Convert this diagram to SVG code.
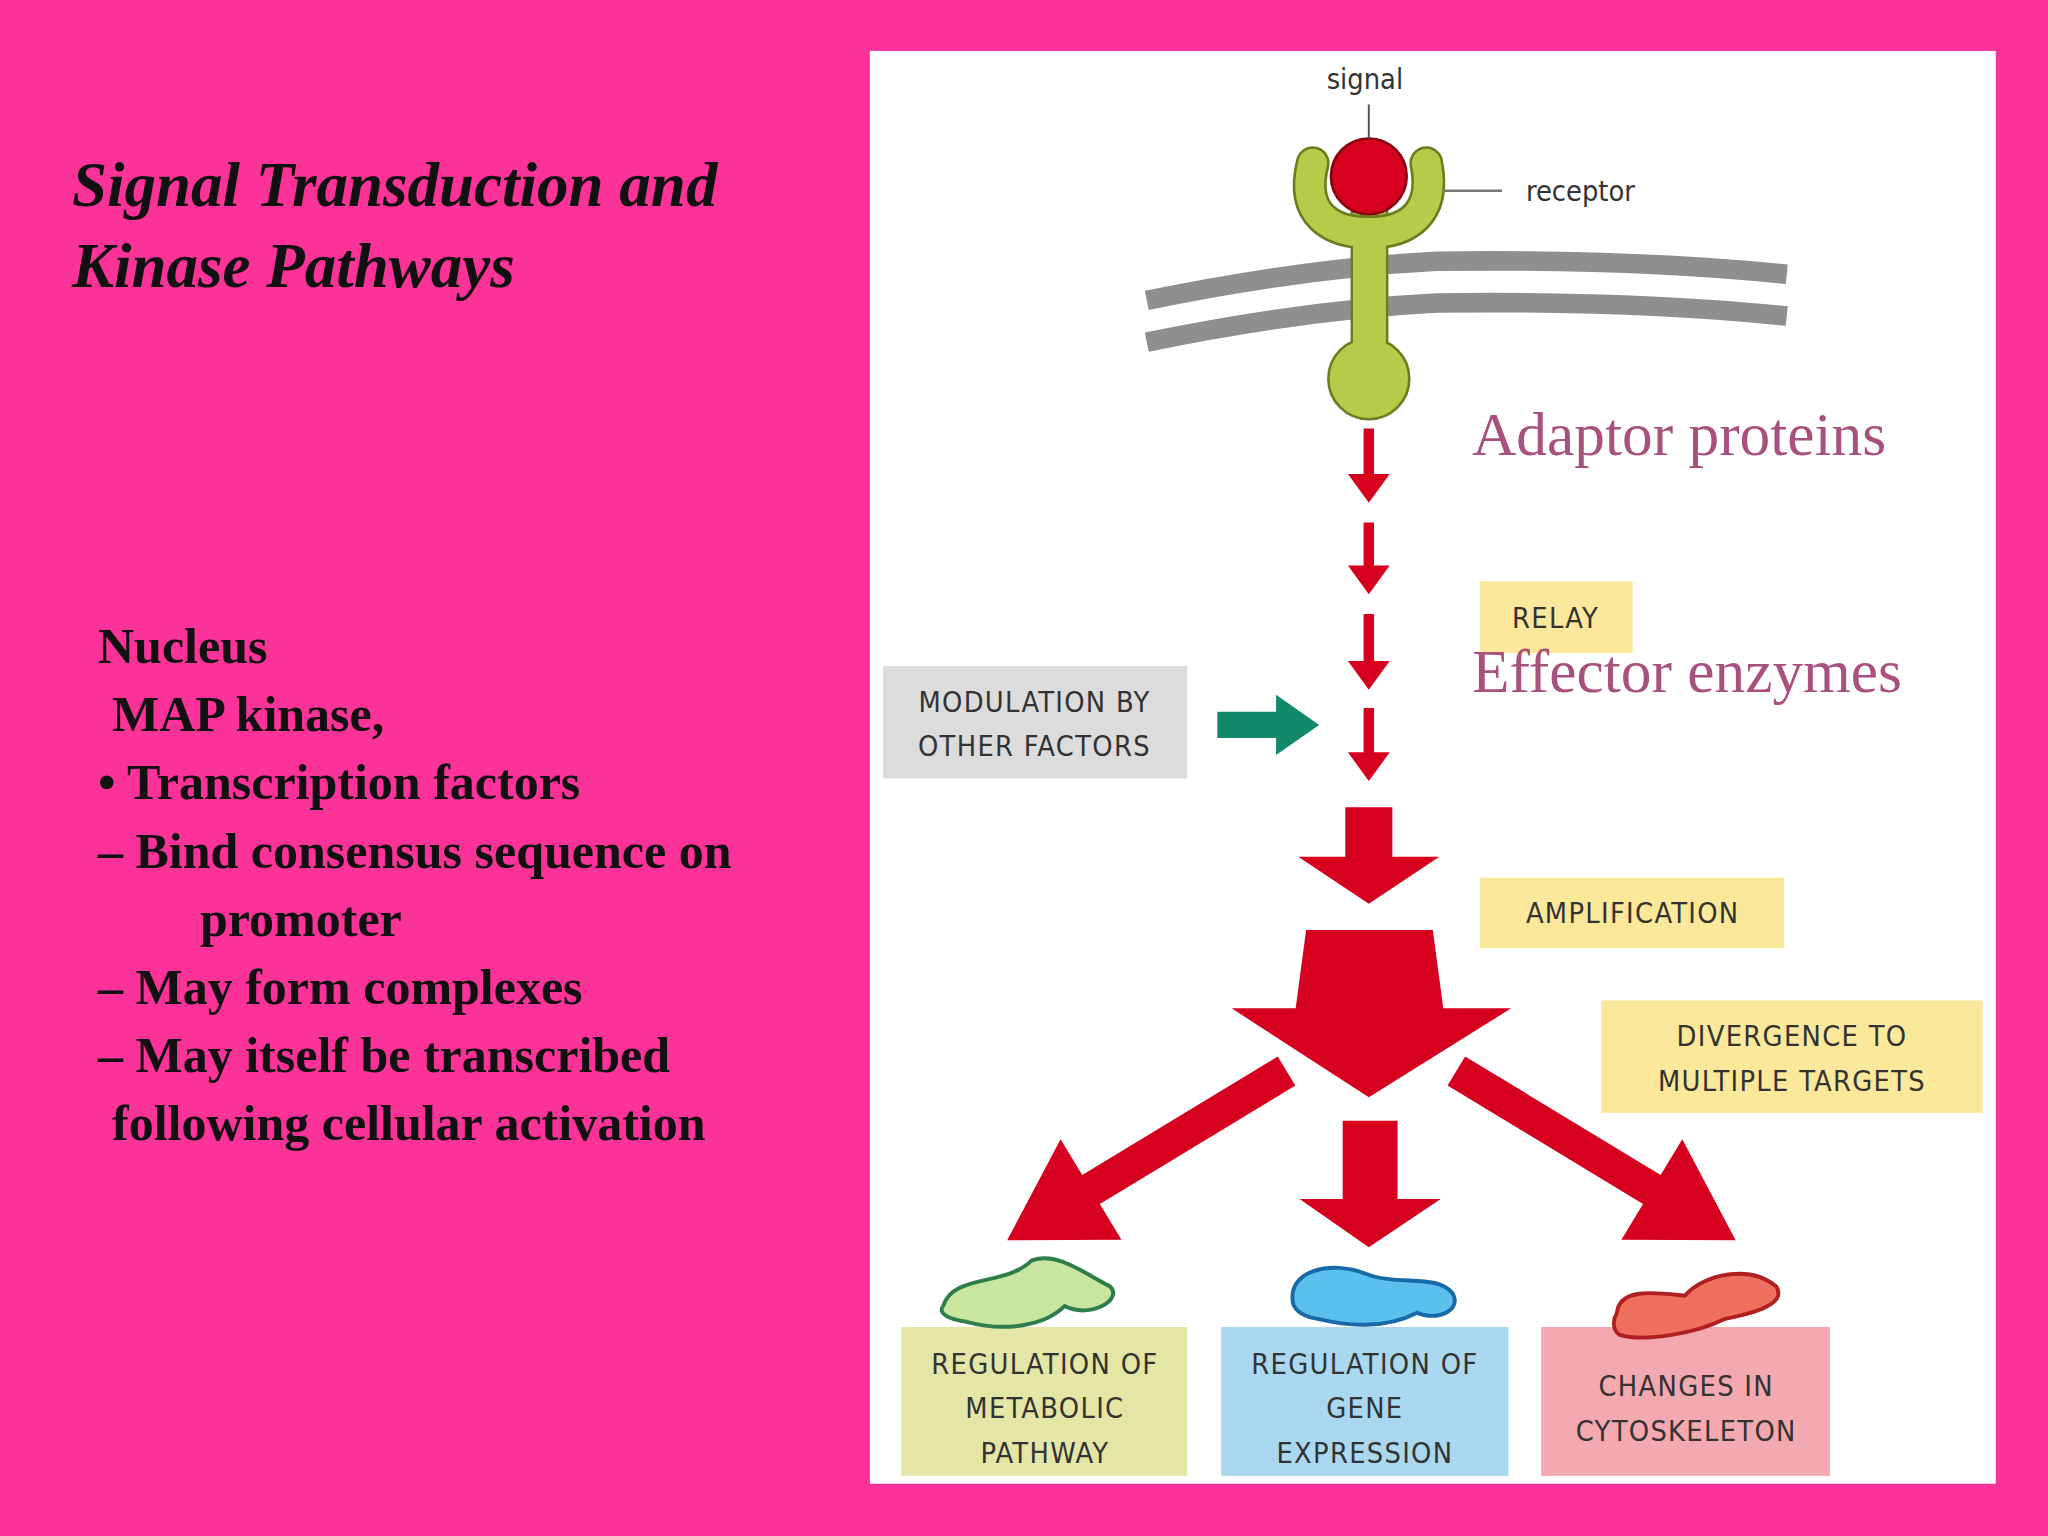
<svg xmlns="http://www.w3.org/2000/svg" width="2048" height="1536" viewBox="0 0 2048 1536">
<style>
.t{font-family:"Liberation Serif",serif;font-weight:bold;fill:#111}
.l{font-family:"DejaVu Sans Condensed","DejaVu Sans",sans-serif;font-size:22px;fill:#333;text-anchor:middle;letter-spacing:1px}
.o{font-family:"Liberation Serif",serif;font-size:47px;fill:#A8507E}
.r{fill:#D6001F}
</style>
<rect width="2048" height="1536" fill="#FB3399"/>
<g id="title">
<text class="t" x="72" y="206" font-size="63" font-style="italic">Signal Transduction and</text>
<text class="t" x="72" y="287" font-size="63" font-style="italic">Kinase Pathways</text>
</g>
<g id="body" class="t" font-size="50">
<text x="98" y="663">Nucleus</text>
<text x="112" y="731">MAP kinase,</text>
<text x="98" y="799">• Transcription factors</text>
<text x="98" y="868">– Bind consensus sequence on</text>
<text x="200" y="936">promoter</text>
<text x="98" y="1004">– May form complexes</text>
<text x="98" y="1072">– May itself be transcribed</text>
<text x="112" y="1140">following cellular activation</text>
</g>
<g transform="scale(1.30612)">
<rect x="666" y="39" width="862" height="1097" fill="#fff"/>
<g id="membrane" fill="none" stroke="#8f8f8f" stroke-width="15">
<path d="M878,230 Q1000,205 1100,200 Q1250,198 1368,210"/>
<path d="M878,262 Q1000,237 1100,232 Q1250,230 1368,242"/>
</g>
<g id="receptor">
<rect x="1035" y="160" width="27" height="115" fill="#B5CC4A" stroke="#6b7d20" stroke-width="2"/>
<path d="M1005,125 C995,165 1020,178 1048,178 C1076,178 1100,165 1092,125" fill="none" stroke="#6b7d20" stroke-width="26" stroke-linecap="round"/>
<path d="M1005,125 C995,165 1020,178 1048,178 C1076,178 1100,165 1092,125" fill="none" stroke="#B5CC4A" stroke-width="22" stroke-linecap="round"/>
<rect x="1036" y="170" width="25" height="110" fill="#B5CC4A"/>
<circle cx="1048" cy="290" r="31" fill="#B5CC4A" stroke="#6b7d20" stroke-width="2"/>
<rect x="1036" y="255" width="25" height="10" fill="#B5CC4A"/>
<circle cx="1048" cy="135" r="29" fill="#D6001F" stroke="#8a0010" stroke-width="2"/>
<line x1="1048" y1="80" x2="1048" y2="106" stroke="#555" stroke-width="1.5"/>
<line x1="1105" y1="146" x2="1150" y2="146" stroke="#777" stroke-width="2"/>
<text x="1045" y="68" class="l" style="text-transform:none;font-size:22px;letter-spacing:0">signal</text>
<text x="1210" y="154" class="l" style="font-size:22px;letter-spacing:0">receptor</text>
</g>
<g id="arrows" class="r">
<path d="M1044,328 h8 v35 h12 l-16,22 l-16,-22 h12 z"/>
<path d="M1044,400 h8 v33 h12 l-16,22 l-16,-22 h12 z"/>
<path d="M1044,470 h8 v36 h12 l-16,22 l-16,-22 h12 z"/>
<path d="M1044,542 h8 v34 h12 l-16,22 l-16,-22 h12 z"/>
<path d="M1030,618 h36 v38 h36 l-54,36 l-54,-36 h36 z"/>
<path d="M1000,712 L1097,712 L1105,772 L1157,772 L1048,840 L943,772 L992,772 z"/>
<path d="M1028,858 h42 v60 h33 l-55,37 l-53,-37 h33 z"/>
<path transform="translate(985,820) rotate(148.8)" d="M0,-13 L175,-13 L175,-45 L250,0 L175,45 L175,13 L0,13 z"/>
<path transform="translate(1115,820) rotate(31.2)" d="M0,-13 L175,-13 L175,-45 L250,0 L175,45 L175,13 L0,13 z"/>
<path d="M932,545 h45 v-13 l33,23 l-33,23 v-13 h-45 z" fill="#108A6A"/>
</g>
<g id="relay"><rect x="1133" y="445" width="117" height="55" fill="#FBE89A"/><text class="l" x="1191" y="481">RELAY</text></g>
<g id="amp"><rect x="1133" y="672" width="233" height="54" fill="#FBE89A"/><text class="l" x="1250" y="707">AMPLIFICATION</text></g>
<g id="div"><rect x="1226" y="766" width="292" height="86" fill="#FBE89A"/><text class="l" x="1372" y="801">DIVERGENCE TO</text><text class="l" x="1372" y="835">MULTIPLE TARGETS</text></g>
<g id="mod"><rect x="676" y="510" width="233" height="86" fill="#DCDCDC"/><text class="l" x="792" y="545">MODULATION BY</text><text class="l" x="792" y="579">OTHER FACTORS</text></g>
<g id="b1"><rect x="690" y="1016" width="219" height="114" fill="#E4E6A6"/><text class="l" x="800" y="1052">REGULATION OF</text><text class="l" x="800" y="1086">METABOLIC</text><text class="l" x="800" y="1120">PATHWAY</text>
<path d="M722,1000 C730,975 770,985 790,965 C810,958 830,975 850,985 C860,995 835,1010 815,1000 C800,1015 770,1020 740,1012 C725,1010 718,1005 722,1000 z" fill="#C8E6A0" stroke="#2E7D4A" stroke-width="3"/></g>
<g id="b2"><rect x="935" y="1016" width="220" height="114" fill="#A9D8F0"/><text class="l" x="1045" y="1052">REGULATION OF</text><text class="l" x="1045" y="1086">GENE</text><text class="l" x="1045" y="1120">EXPRESSION</text>
<path d="M990,998 C985,972 1020,965 1045,975 C1070,985 1100,975 1112,990 C1120,1003 1100,1012 1085,1005 C1060,1018 1030,1015 1010,1010 C998,1008 992,1004 990,998 z" fill="#5BC0EB" stroke="#1769A8" stroke-width="3"/></g>
<g id="b3"><rect x="1180" y="1016" width="221" height="114" fill="#F4A8B0"/><text class="l" x="1291" y="1069">CHANGES IN</text><text class="l" x="1291" y="1103">CYTOSKELETON</text>
<path d="M1238,1005 C1240,985 1270,990 1290,992 C1305,975 1340,968 1360,985 C1368,998 1345,1005 1320,1010 C1300,1020 1260,1028 1240,1022 C1234,1018 1235,1010 1238,1005 z" fill="#F07060" stroke="#B02020" stroke-width="3"/></g>
<text class="o" x="1127" y="348">Adaptor proteins</text>
<text class="o" x="1127" y="530">Effector enzymes</text>
</g>
</svg>
